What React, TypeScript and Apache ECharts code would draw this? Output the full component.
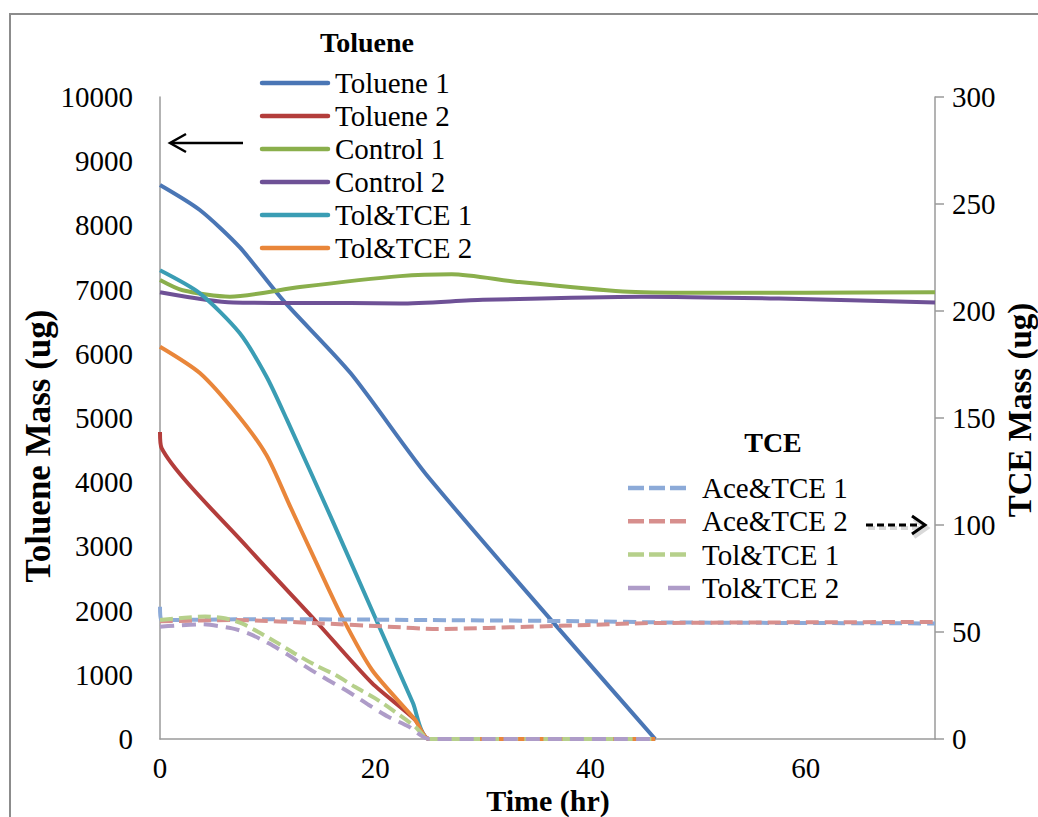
import React, { useEffect, useRef } from "react";
import * as echarts from "echarts";

// ---------- data ----------
const toluene1T = [0, 3.7, 7.4, 11.4, 17.7, 25, 46];
const toluene1V = [8630, 8240, 7660, 6840, 5700, 4065, 0];

const toluene2T = [0, 0.15, 8.1, 14.4, 19.7, 23.7, 25, 46];
const toluene2V = [4780, 4530, 2990, 1850, 870, 300, 0, 0];

const control1T = [0, 2.1, 6.5, 13, 22.3, 27.1, 33.2, 43, 50, 60, 72];
const control1V = [7150, 6990, 6890, 7040, 7210, 7240, 7120, 6970, 6950, 6950, 6960];

const control2T = [0, 6.8, 17.7, 22.3, 30, 44.7, 57.5, 72];
const control2V = [6960, 6800, 6790, 6785, 6840, 6890, 6860, 6800];

const tolTce1T = [0, 3.7, 7.4, 9.9, 11.8, 16, 20.1, 23.5, 25, 46];
const tolTce1V = [7300, 6942, 6324, 5643, 4970, 3410, 1850, 560, 0, 0];

const tolTce2T = [0, 3.7, 7.2, 9.9, 12.1, 14.4, 16.9, 19.7, 23.7, 25, 46];
const tolTce2V = [6110, 5700, 5050, 4420, 3620, 2790, 1905, 1075, 300, 0, 0];

const aceTce1T = [0, 0.15, 10, 25, 40, 46, 72];
const aceTce1V = [61.8, 55.6, 56, 55.6, 55, 54.5, 54];

const aceTce2T = [0, 7, 15, 21.2, 25.8, 30.5, 39.8, 46, 72];
const aceTce2V = [55, 55.6, 54, 52.5, 51.4, 51.9, 53.3, 54.2, 54.7];

const tceTol1T = [0, 2.3, 4.2, 6, 7.6, 9.1, 10.7, 12.5, 14.4, 16.3, 18.1, 20, 21.8, 23.7, 25, 46];
const tceTol1V = [55.6, 56.7, 57.2, 56.4, 54, 50.1, 45.5, 40, 34.6, 29.9, 24.4, 19, 12.8, 5.8, 0, 0];

const tceTol2T = [0, 1.4, 3.9, 6.7, 8.2, 10.1, 11.9, 13.8, 15.6, 17.5, 19.4, 21.2, 23.1, 25, 46];
const tceTol2V = [52.5, 53, 53.6, 51.7, 49.4, 44.7, 39.3, 33, 27.6, 22.1, 15.9, 10.4, 5.8, 0, 0];

const xTicks = { min: 0, max: 72, interval: 20 };
const yLeftTicks = { min: 0, max: 10000, interval: 1000 };
const yRightTicks = { min: 0, max: 300, interval: 50 };

const tolueneNames = ["Toluene 1", "Toluene 2", "Control 1", "Control 2", "Tol&TCE 1", "Tol&TCE 2"];
const tceNames = ["Ace&TCE 1", "Ace&TCE 2", "Tol&TCE 1", "Tol&TCE 2"];

// ---------- styling ----------
const FONT = "Liberation Serif";
const AXIS_GRAY = "#9a9a9a";

const tolueneColors = ["#4A76B5", "#B33D3B", "#8AAF4C", "#6E5196", "#3A9DB4", "#E9863A"];
const tceColors = ["#8CAAD8", "#D78F8D", "#B6D08B", "#AE9CC8"];
const tceDash = [[13, 6], [13, 6], [13, 6], [14, 8]];
const tceLegendDash = [[16, 5], [16, 5], [16, 5], [22, 18]];

const pairs = (t: number[], v: number[]) => t.map((x, i) => [x, v[i]]);

function lineSeries(name: string, t: number[], v: number[], color: string, yAxisIndex: number, dash?: number[]) {
  return {
    name,
    type: "line",
    yAxisIndex,
    data: pairs(t, v),
    symbol: "none",
    showSymbol: false,
    smooth: 0.25,
    lineStyle: { color, width: 4, type: dash ? dash : "solid", cap: "butt" },
    itemStyle: { color },
  };
}

const tolueneData = [
  [toluene1T, toluene1V],
  [toluene2T, toluene2V],
  [control1T, control1V],
  [control2T, control2V],
  [tolTce1T, tolTce1V],
  [tolTce2T, tolTce2V],
];
const tceData = [
  [aceTce1T, aceTce1V],
  [aceTce2T, aceTce2V],
  [tceTol1T, tceTol1V],
  [tceTol2T, tceTol2V],
];

const series = [
  ...tolueneData.map(([t, v], i) => lineSeries(tolueneNames[i], t, v, tolueneColors[i], 0)),
  ...tceData.map(([t, v], i) => lineSeries(tceNames[i] + " (TCE)", t, v, tceColors[i], 1, tceDash[i])),
];

const txt = (text: string, size: number, bold = false) => ({
  text,
  fontFamily: FONT,
  fontSize: size,
  fontWeight: bold ? "bold" : "normal",
  fill: "#000",
});

// ---------- hand-drawn legends (graphic) ----------
const legendGraphics: any[] = [];
tolueneNames.forEach((n, i) => {
  const y = 83 + 33 * i;
  legendGraphics.push({
    type: "line",
    silent: true,
    shape: { x1: 262, y1: y, x2: 328, y2: y },
    style: { stroke: tolueneColors[i], lineWidth: 4.5, lineCap: "round" },
  });
  legendGraphics.push({
    type: "text",
    silent: true,
    x: 335,
    y: y,
    style: { ...txt(n, 29), align: "left", verticalAlign: "middle" },
  });
});
tceNames.forEach((n, i) => {
  const y = 488 + 33.3 * i;
  legendGraphics.push({
    type: "line",
    silent: true,
    shape: { x1: 628, y1: y, x2: 690, y2: y },
    style: { stroke: tceColors[i], lineWidth: 4.5, lineDash: tceLegendDash[i] },
  });
  legendGraphics.push({
    type: "text",
    silent: true,
    x: 702,
    y: y,
    style: { ...txt(n, 29), align: "left", verticalAlign: "middle" },
  });
});

const option = {
  animation: false,
  backgroundColor: "#fff",
  textStyle: { fontFamily: FONT },
  grid: { left: 160, right: 103, top: 97, bottom: 78, containLabel: false },
  xAxis: {
    type: "value",
    ...xTicks,
    axisLine: { show: true, lineStyle: { color: AXIS_GRAY, width: 1.5 } },
    axisTick: { show: false },
    splitLine: { show: false },
    axisLabel: {
      fontFamily: FONT,
      fontSize: 29,
      color: "#000",
      margin: 14,
      showMaxLabel: false,
      formatter: (v: number) => String(v),
    },
  },
  yAxis: [
    {
      type: "value",
      position: "left",
      ...yLeftTicks,
      axisLine: { show: true, lineStyle: { color: AXIS_GRAY, width: 1.5 } },
      axisTick: { show: false },
      splitLine: { show: false },
      axisLabel: { fontFamily: FONT, fontSize: 29, color: "#000", margin: 27, formatter: (v: number) => String(v) },
    },
    {
      type: "value",
      position: "right",
      ...yRightTicks,
      axisLine: { show: true, lineStyle: { color: AXIS_GRAY, width: 1.5 } },
      axisTick: { show: true, inside: false, length: 9, lineStyle: { color: AXIS_GRAY, width: 1.5 } },
      splitLine: { show: false },
      axisLabel: { fontFamily: FONT, fontSize: 29, color: "#000", margin: 17, formatter: (v: number) => String(v) },
    },
  ],
  series,
  graphic: [
    {
      type: "rect",
      silent: true,
      shape: { x: 10, y: 14, width: 1040, height: 820 },
      style: { fill: "none", stroke: "#8c8c8c", lineWidth: 2 },
      z: 100,
    },
    ...legendGraphics,
    { type: "text", x: 367, y: 42, style: { ...txt("Toluene", 28, true), align: "center", verticalAlign: "middle" } },
    { type: "text", x: 773, y: 442, style: { ...txt("TCE", 28, true), align: "center", verticalAlign: "middle" } },
    { type: "text", x: 548, y: 800, style: { ...txt("Time (hr)", 30, true), align: "center", verticalAlign: "middle" } },
    {
      type: "text",
      x: 38,
      y: 446,
      rotation: Math.PI / 2,
      style: { ...txt("Toluene Mass (ug)", 35, true), align: "center", verticalAlign: "middle" },
    },
    {
      type: "text",
      x: 1020,
      y: 410,
      rotation: Math.PI / 2,
      style: { ...txt("TCE Mass (ug)", 33, true), align: "center", verticalAlign: "middle" },
    },
    // solid arrow pointing to the left axis
    {
      type: "line",
      shape: { x1: 243, y1: 143, x2: 172, y2: 143 },
      style: { stroke: "#000", lineWidth: 2.5 },
    },
    {
      type: "polyline",
      shape: { points: [[186, 134], [170, 143], [186, 152]] },
      style: { stroke: "#000", lineWidth: 2.5, fill: "none" },
    },
    // dashed arrow pointing to the right axis (with soft shadow)
    {
      type: "line",
      silent: true,
      shape: { x1: 868, y1: 528, x2: 922, y2: 528 },
      style: { stroke: "rgba(0,0,0,0.15)", lineWidth: 4, lineDash: [7, 4] },
    },
    {
      type: "polyline",
      silent: true,
      shape: { points: [[914, 519], [927, 528], [914, 537]] },
      style: { stroke: "rgba(0,0,0,0.15)", lineWidth: 4, fill: "none" },
    },
    {
      type: "line",
      shape: { x1: 866, y1: 525, x2: 921, y2: 525 },
      style: { stroke: "#000", lineWidth: 3, lineDash: [7, 4] },
    },
    {
      type: "polyline",
      shape: { points: [[912, 516], [925, 525], [912, 534]] },
      style: { stroke: "#000", lineWidth: 3, fill: "none" },
    },
  ],
};

export default function App() {
  const ref = useRef<HTMLDivElement>(null);
  useEffect(() => {
    if (!ref.current) return;
    const chart = echarts.init(ref.current, null, { renderer: "svg" });
    chart.setOption(option as any);
    return () => chart.dispose();
  }, []);
  return (
    <div
      ref={ref}
      style={{ position: "absolute", left: 0, top: 0, width: 1038, height: 817, background: "#fff", overflow: "hidden" }}
    />
  );
}
